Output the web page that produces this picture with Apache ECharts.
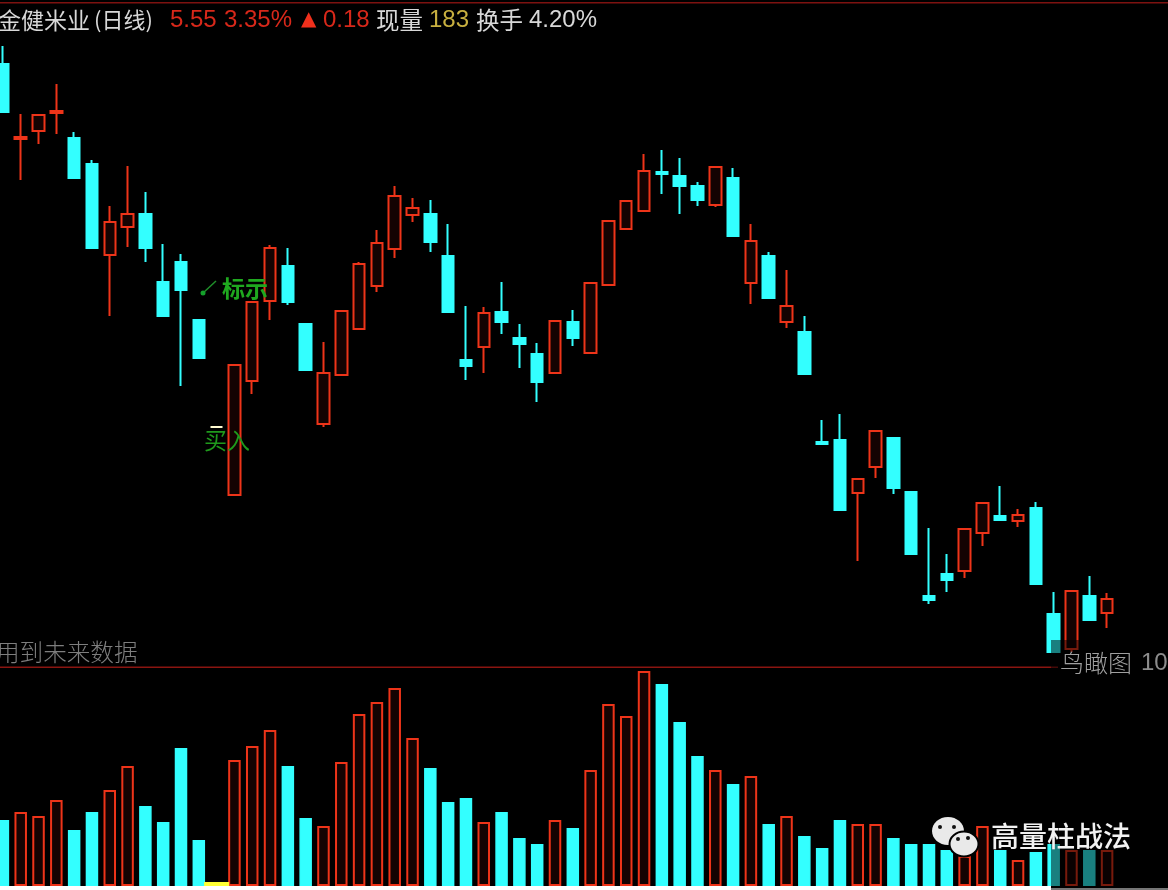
<!DOCTYPE html>
<html><head><meta charset="utf-8">
<style>html,body{margin:0;padding:0;background:#000;overflow:hidden}#c{width:1168px;height:890px}</style>
<script src="https://cdn.jsdelivr.net/npm/echarts@6/dist/echarts.min.js"></script>
</head><body><div id="c"></div>
<script>
const days=Array.from({length:63},(_,i)=>'D'+(i+1));
const opens=[10.90,10.15,10.23,10.41,10.16,9.90,8.99,9.27,9.40,8.72,8.92,8.34,7.27,6.59,7.73,8.53,8.88,8.30,7.30,7.79,8.25,8.68,9.05,9.39,9.40,8.98,7.94,8.07,8.42,8.16,8.00,7.81,8.32,8.01,8.69,9.25,9.43,9.82,9.78,9.68,9.49,9.76,8.71,8.98,8.32,8.22,7.12,7.14,6.61,6.87,7.16,6.62,5.58,5.80,5.83,6.21,6.38,6.33,6.46,5.40,5.05,5.58,5.41];
const closes=[10.42,10.17,10.39,10.43,9.76,9.06,9.32,9.40,9.06,8.38,8.64,7.96,7.27,7.89,8.52,9.06,8.52,7.84,7.81,8.43,8.90,9.11,9.58,9.46,9.12,8.42,7.88,8.41,8.32,8.10,7.72,8.33,8.16,8.71,9.33,9.53,9.83,9.80,9.68,9.54,9.87,9.18,9.13,8.56,8.48,7.80,7.10,6.44,6.75,7.23,6.66,6.00,5.54,5.74,6.25,6.51,6.34,6.39,5.70,5.02,5.63,5.34,5.55];
const lows=[10.42,9.74,10.10,10.20,9.76,9.06,8.38,9.07,8.92,8.38,7.68,7.96,7.27,6.59,7.60,8.34,8.49,7.84,7.27,7.79,8.25,8.62,8.96,9.32,9.02,8.42,7.74,7.81,8.20,7.86,7.52,7.80,8.08,8.01,8.69,9.24,9.42,9.60,9.40,9.48,9.47,9.18,8.50,8.56,8.26,7.80,7.10,6.44,5.93,6.76,6.60,5.99,5.50,5.62,5.76,6.08,6.33,6.27,5.70,5.02,5.02,5.33,5.26];
const highs=[11.08,10.40,10.39,10.70,10.22,9.94,9.48,9.88,9.62,9.10,9.00,8.34,7.27,7.89,8.52,9.09,9.06,8.30,8.12,8.43,8.92,9.24,9.68,9.56,9.54,9.30,8.48,8.47,8.72,8.30,8.11,8.33,8.44,8.71,9.33,9.53,10.00,10.04,9.96,9.72,9.87,9.86,9.30,9.02,8.84,8.38,7.34,7.40,6.75,7.23,7.16,6.62,6.26,6.00,6.25,6.51,6.68,6.45,6.52,5.62,5.63,5.78,5.61];
const volumes=[330,370,350,430,280,370,480,600,400,320,690,230,20,630,700,780,600,340,300,620,860,920,990,740,590,420,440,320,370,240,210,330,290,580,910,850,1075,1010,820,650,580,510,550,310,350,250,190,330,310,310,240,210,210,180,150,300,180,130,170,210,180,180,180];
const limitDay=12;
const RED='#ee3419',CYAN='#33ffff',HOLLOW='#140302',YEL='#ffff33';
const candleData=days.map((_,i)=>{
  const v=[opens[i],closes[i],lows[i],highs[i]];
  return i===limitDay?{value:v,itemStyle:{color:'#fffbd0',color0:'#fffbd0',borderColor:'#fffbd0',borderColor0:'#fffbd0'}}:v;
});
const volData=volumes.map((v,i)=>{
  if(i===limitDay) return {value:0};
  const up=closes[i]>opens[i];
  return {value:v,itemStyle:up?{color:HOLLOW,borderColor:RED,borderWidth:2}:{color:CYAN,borderColor:CYAN,borderWidth:1.5}};
});
const limitData=volumes.map((v,i)=>i===limitDay?v:null);
const chart=echarts.init(document.getElementById('c'),null,{renderer:'canvas'});
const L=-6,W=1122;
const hx={type:'category',data:days,boundaryGap:true,show:false};
const T=(x,y,text,fill,font,z=70)=>({type:'text',z,x,y,style:{text,fill,font,textVerticalAlign:'middle'}});
const CJK='"Noto Sans CJK SC"',LAT='"Liberation Sans"';
chart.setOption({
  backgroundColor:'#000',animation:false,
  grid:[{left:L,top:0,width:W,height:667,outerBoundsMode:'none'},{left:L,top:667,width:W,height:219,outerBoundsMode:'none'}],
  xAxis:[{...hx,gridIndex:0},{...hx,gridIndex:1},{...hx,gridIndex:1}],
  yAxis:[{type:'value',gridIndex:0,min:4.87,max:11.54,show:false,splitLine:{show:false}},
         {type:'value',gridIndex:1,min:0,max:1095,show:false,splitLine:{show:false}}],
  series:[
    {type:'candlestick',xAxisIndex:0,yAxisIndex:0,data:candleData,barWidth:12,
     itemStyle:{color:HOLLOW,color0:CYAN,borderColor:RED,borderColor0:CYAN,borderWidth:2}},
    {type:'bar',xAxisIndex:1,yAxisIndex:1,data:volData,barWidth:12.5},
    {type:'bar',xAxisIndex:2,yAxisIndex:1,data:limitData,barWidth:25,itemStyle:{color:YEL}}
  ],
  graphic:[
    {type:'rect',z:50,shape:{x:0,y:2,width:1168,height:1.5},style:{fill:'#7d1210'}},
    {type:'rect',z:50,shape:{x:0,y:666.5,width:1058,height:1.5},style:{fill:'#8a1510'}},
    {type:'rect',z:60,shape:{x:1051,y:640,width:117,height:250},style:{fill:'rgba(0,0,0,0.5)'}},
    {type:'rect',z:61,shape:{x:0,y:886,width:1051,height:4},style:{fill:'#ffffff'}},
    {type:'rect',z:61,shape:{x:1051,y:888,width:117,height:2},style:{fill:'#767676'}},
    T(-2,20,'金健米业','#d8d8d8','23px '+CJK),
    T(94,20,'(日线)','#d8d8d8','22px '+CJK),
    T(170,20,'5.55','#d8281a','24px '+LAT),
    T(224,20,'3.35%','#d8281a','24px '+LAT),
    T(301,20,'▲','#f0301c','20px "DejaVu Sans"'),
    T(323,20,'0.18','#d8281a','24px '+LAT),
    T(376,20,'现量','#d8d8d8','23.5px '+CJK),
    T(429,20,'183','#c8b040','24px '+LAT),
    T(476,20,'换手','#d8d8d8','23.5px '+CJK),
    T(529,20,'4.20%','#d8d8d8','24px '+LAT),
    T(-4,652,'用到未来数据','#7e7e7e','300 23.6px '+CJK),
    T(1060,663,'鸟瞰图','#a0a0a0','300 24px '+CJK),
    T(1141,663,'10','#8c8c8c','24px '+LAT),
    T(222,288,'标示','#1fa81f','bold 23px '+CJK),
    {type:'line',z:70,shape:{x1:203,y1:293,x2:216,y2:281},style:{stroke:'#1f8f2a',lineWidth:1.5}},
    {type:'circle',z:70,shape:{cx:203,cy:293,r:2.5},style:{fill:'#14a02a'}},
    T(204,440,'买入','#1f9a1c','23px '+CJK),
    {type:'ellipse',z:72,shape:{cx:948,cy:831,rx:16,ry:14},style:{fill:'#e9e9e9'}},
    {type:'ellipse',z:73,shape:{cx:964,cy:844,rx:14.5,ry:12.5},style:{fill:'#e9e9e9',stroke:'#000',lineWidth:2}},
    {type:'circle',z:74,shape:{cx:940,cy:827,r:2},style:{fill:'#111'}},
    {type:'circle',z:74,shape:{cx:954,cy:827,r:2},style:{fill:'#111'}},
    {type:'circle',z:74,shape:{cx:958,cy:839,r:2},style:{fill:'#111'}},
    {type:'circle',z:74,shape:{cx:968,cy:838,r:2},style:{fill:'#111'}},
    T(991,836,'高量柱战法','#f2f2f2','500 28px '+CJK,75)
  ]
});
</script></body></html>
